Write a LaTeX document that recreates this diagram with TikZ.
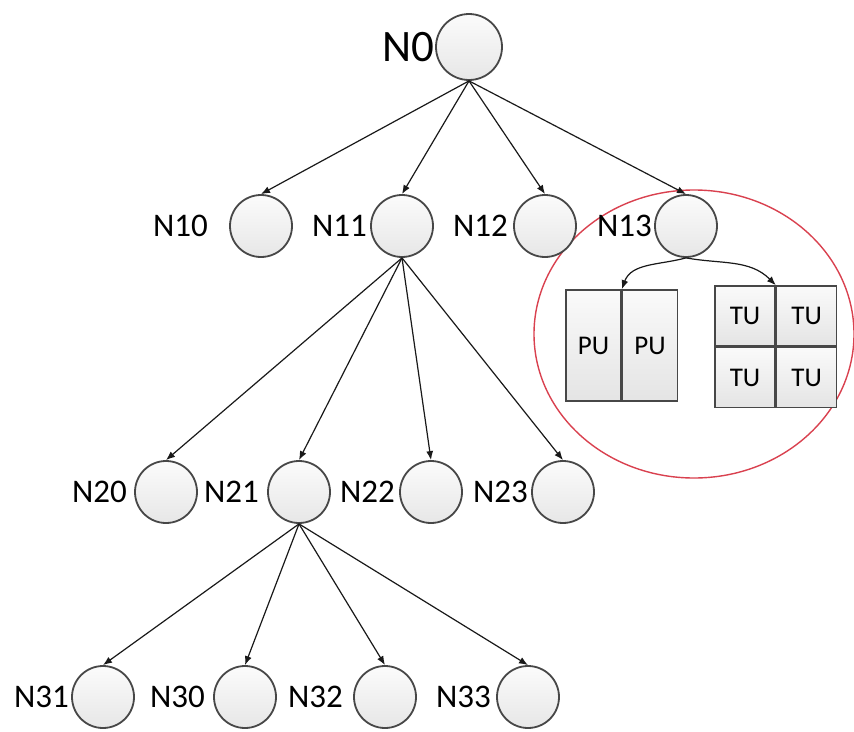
\documentclass[tikz,border=0pt]{standalone}
\usepackage{fontspec}
\setmainfont{Carlito}
\usetikzlibrary{arrows.meta,positioning}
\definecolor{ndline}{HTML}{474747}
\definecolor{ringred}{HTML}{D9414F}

\begin{document}
\begin{tikzpicture}[x=1pt,y=-1pt,
 >={Latex[length=9pt,width=7pt]},
 nd/.style={circle,draw=ndline,line width=1.8pt,minimum size=62pt,inner sep=0pt,top color=gray!3,bottom color=gray!19},
 lbl/.style={font=\fontsize{33}{36}\selectfont,inner sep=0pt},
 cell/.style={draw=ndline,line width=1.6pt,top color=gray!4,bottom color=gray!21,inner sep=0pt,font=\fontsize{27}{29}\selectfont},
 link/.style={->,line width=1.2pt,draw=black!90}
]
\useasboundingbox (0,0) rectangle (854,731);
\draw[ringred,line width=1.4pt] (694,334) ellipse [x radius=160,y radius=144];

\node[nd,minimum size=66pt] (n0) at (469,47) {};
\node[lbl,font=\fontsize{45}{48}\selectfont,left=1pt of n0] (l0) {N0};

\foreach \n/\x in {10/261,11/402,12/545,13/686} \node[nd] (n\n) at (\x,226) {};
\foreach \n/\x in {20/166,21/299,22/431,23/563} \node[nd] (n\n) at (\x,492) {};
\foreach \n/\x in {31/103,30/245,32/385,33/528} \node[nd] (n\n) at (\x,697) {};

\foreach \n/\g in {10/21,11/3,12/5,13/2,20/7,21/8,22/4,23/3,31/2,30/8,32/10,33/5}
 \node[lbl,left=\g pt of n\n] (l\n) {N\n};

\node[cell,minimum width=55pt,minimum height=111pt] (pu1) at (593.5,345.5) {PU};
\node[cell,minimum width=55pt,minimum height=111pt,right=0pt of pu1] (pu2) {PU};
\node[cell,minimum size=60pt] (tu1) at (745,316) {TU};
\node[cell,minimum size=60pt,right=0pt of tu1] (tu2) {TU};
\node[cell,minimum size=60pt,below=0pt of tu1] (tu3) {TU};
\node[cell,minimum size=60pt,right=0pt of tu3] (tu4) {TU};

\foreach \c in {10,11,12,13} \draw[link] (n0.south) -- (n\c.north);
\foreach \c in {20,21,22,23} \draw[link] (n11.south) -- (n\c.north);
\foreach \c in {31,30,32,33} \draw[link] (n21.south) -- (n\c.north);
\draw[link] (n13.south) to[out=195,in=70] (pu1.north east);
\draw[link] (n13.south) to[out=-10,in=135] (tu1.north east);
\end{tikzpicture}
\end{document}
